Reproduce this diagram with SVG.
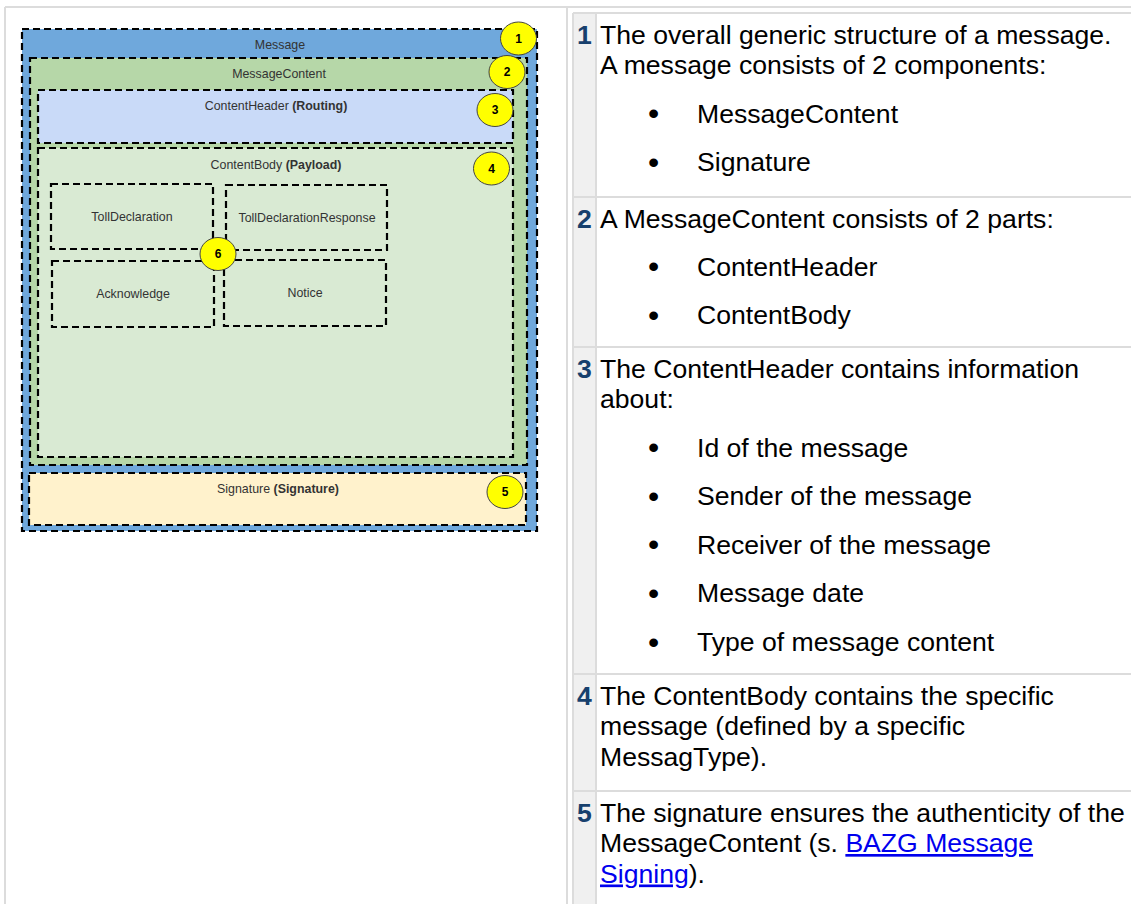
<svg xmlns="http://www.w3.org/2000/svg" width="1131" height="904" viewBox="0 0 1131 904">
<style>
.grid{stroke:#dcdcdc;stroke-width:2;fill:none}
.dash{stroke:#000;stroke-width:2.2;stroke-dasharray:7 4;}
.lbl{font-family:"Liberation Sans",Arial,sans-serif;font-size:12.4px;fill:#333;text-anchor:middle}
.num{font-family:"Liberation Sans",Arial,sans-serif;font-size:12px;font-weight:bold;fill:#000;text-anchor:middle}
.badge{fill:#ffff00;stroke:#444;stroke-width:1}
.t{font-family:"Liberation Sans",Arial,sans-serif;font-size:26.6px;fill:#000}
.rn{font-family:"Liberation Sans",Arial,sans-serif;font-size:26.6px;font-weight:bold;fill:#17406d}
.bl{font-family:"Liberation Sans",Arial,sans-serif;font-size:32px;fill:#000;text-anchor:middle}
.lnk{fill:#0000ee;text-decoration:underline}
</style>
<rect x="0" y="0" width="1131" height="904" fill="#fff"/>
<g id="table">
<rect x="573" y="13" width="23" height="891" fill="#f0f0f0"/>
<line class="grid" x1="5" y1="7" x2="1131" y2="7"/>
<line class="grid" x1="5" y1="7" x2="5" y2="904"/>
<line class="grid" x1="567" y1="7" x2="567" y2="904"/>
<line class="grid" x1="573" y1="13" x2="1131" y2="13"/>
<line class="grid" x1="573" y1="13" x2="573" y2="904"/>
<line class="grid" x1="596" y1="13" x2="596" y2="904" stroke="#e4e4e4"/>
<line class="grid" x1="573" y1="197" x2="1131" y2="197"/>
<line class="grid" x1="573" y1="347" x2="1131" y2="347"/>
<line class="grid" x1="573" y1="674" x2="1131" y2="674"/>
<line class="grid" x1="573" y1="791" x2="1131" y2="791"/>
</g>
<g id="message">
<rect x="22" y="29" width="515" height="502" fill="#6fa8dc"/>
<rect class="dash" x="22" y="29" width="515" height="502" fill="none"/>
<text class="lbl" x="280" y="49">Message</text>
</g>
<g id="messagecontent">
<rect class="dash" x="30" y="58" width="497" height="407" fill="#b6d7a8"/>
<text class="lbl" x="279" y="78">MessageContent</text>
</g>
<g id="contentheader">
<rect class="dash" x="38" y="90" width="475" height="53" fill="#c9daf8"/>
<text class="lbl" x="276" y="110">ContentHeader <tspan font-weight="bold">(Routing)</tspan></text>
</g>
<g id="contentbody">
<rect class="dash" x="38" y="148" width="475" height="309" fill="#d9ead3"/>
<text class="lbl" x="276" y="169">ContentBody <tspan font-weight="bold">(Payload)</tspan></text>
</g>
<g id="tolldeclaration">
<rect class="dash" x="51" y="184" width="162" height="65" fill="none"/>
<text class="lbl" x="132" y="221">TollDeclaration</text>
</g>
<g id="tolldeclarationresponse">
<rect class="dash" x="226" y="185" width="161" height="65" fill="none"/>
<text class="lbl" x="307" y="222">TollDeclarationResponse</text>
</g>
<g id="acknowledge">
<rect class="dash" x="52" y="261" width="162" height="66" fill="none"/>
<text class="lbl" x="133" y="298">Acknowledge</text>
</g>
<g id="notice">
<rect class="dash" x="224" y="260" width="162" height="66" fill="none"/>
<text class="lbl" x="305" y="297">Notice</text>
</g>
<g id="signature">
<rect class="dash" x="29" y="473" width="497" height="52" fill="#fff2cc"/>
<text class="lbl" x="278" y="493">Signature <tspan font-weight="bold">(Signature)</tspan></text>
</g>
<g id="badges">
<g id="badge1"><ellipse class="badge" cx="518.5" cy="38.5" rx="18" ry="16.5"/><text class="num" x="518.5" y="42.5">1</text></g>
<g id="badge2"><ellipse class="badge" cx="507" cy="72" rx="18" ry="16.5"/><text class="num" x="507" y="76">2</text></g>
<g id="badge3"><ellipse class="badge" cx="495" cy="110" rx="18" ry="16.5"/><text class="num" x="495" y="114">3</text></g>
<g id="badge4"><ellipse class="badge" cx="491.5" cy="168.5" rx="18" ry="16.5"/><text class="num" x="491.5" y="172.5">4</text></g>
<g id="badge5"><ellipse class="badge" cx="505" cy="492" rx="18" ry="16.5"/><text class="num" x="505" y="496">5</text></g>
<g id="badge6"><ellipse class="badge" cx="218" cy="254" rx="18" ry="16.5"/><text class="num" x="218" y="258">6</text></g>
</g>
<g id="connectors"></g>
<g id="row1">
<text class="rn" x="577" y="43.5">1</text>
<text class="t" x="600" y="43.5">The overall generic structure of a message.</text>
<text class="t" x="600" y="74.2">A message consists of 2 components:</text>
<text class="bl" x="653.5" y="124">•</text><text class="t" x="697" y="122.5">MessageContent</text>
<text class="bl" x="653.5" y="172.5">•</text><text class="t" x="697" y="171">Signature</text>
</g>
<g id="row2">
<text class="rn" x="577" y="227.5">2</text>
<text class="t" x="600" y="227.5">A MessageContent consists of 2 parts:</text>
<text class="bl" x="653.5" y="277">•</text><text class="t" x="697" y="275.5">ContentHeader</text>
<text class="bl" x="653.5" y="325.5">•</text><text class="t" x="697" y="324">ContentBody</text>
</g>
<g id="row3">
<text class="rn" x="577" y="377.5">3</text>
<text class="t" x="600" y="377.5">The ContentHeader contains information</text>
<text class="t" x="600" y="408">about:</text>
<text class="bl" x="653.5" y="458">•</text><text class="t" x="697" y="456.5">Id of the message</text>
<text class="bl" x="653.5" y="506.5">•</text><text class="t" x="697" y="505">Sender of the message</text>
<text class="bl" x="653.5" y="555">•</text><text class="t" x="697" y="553.5">Receiver of the message</text>
<text class="bl" x="653.5" y="603.5">•</text><text class="t" x="697" y="602">Message date</text>
<text class="bl" x="653.5" y="652.5">•</text><text class="t" x="697" y="651">Type of message content</text>
</g>
<g id="row4">
<text class="rn" x="577" y="704.5">4</text>
<text class="t" x="600" y="704.5">The ContentBody contains the specific</text>
<text class="t" x="600" y="735">message (defined by a specific</text>
<text class="t" x="600" y="765.5">MessagType).</text>
</g>
<g id="row5">
<text class="rn" x="577" y="821.5">5</text>
<text class="t" x="600" y="821.5">The signature ensures the authenticity of the</text>
<text class="t" x="600" y="852">MessageContent (s. <tspan class="lnk">BAZG Message</tspan></text>
<text class="t" x="600" y="882.5"><tspan class="lnk">Signing</tspan>).</text>
</g>
</svg>
